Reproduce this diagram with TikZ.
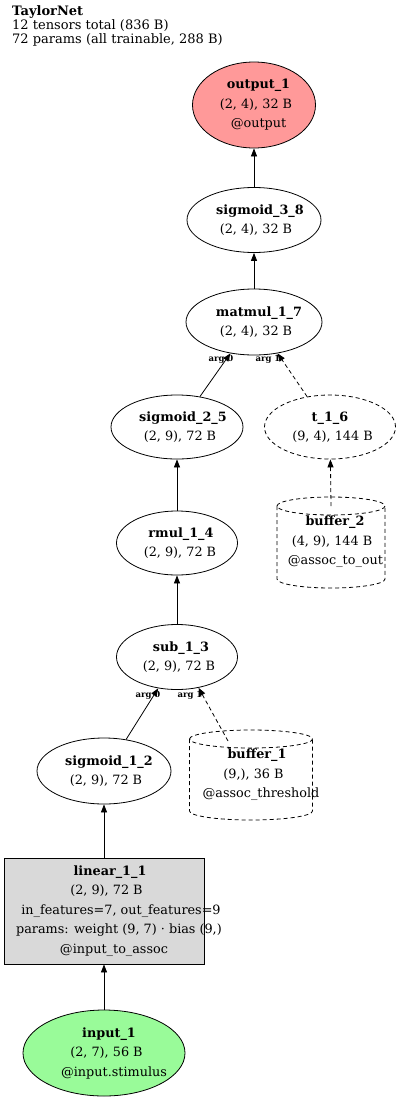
\documentclass[tikz,border=0pt]{standalone}
\usepackage{fontspec}
\setmainfont{DejaVu Serif}
\usetikzlibrary{arrows.meta,shapes.geometric,calc}
\definecolor{outfill}{RGB}{255,153,153}
\definecolor{infill}{RGB}{153,251,153}
\definecolor{linfill}{RGB}{217,217,217}
\tikzset{
  every node/.style={font=\fontsize{12.8}{19.5}\selectfont, inner sep=0pt, text=black},
  op/.style={ellipse, draw, line width=0.8pt, align=center},
  boxnode/.style={rectangle, draw, line width=0.8pt, align=center, fill=linfill},
  bufnode/.style={rectangle, draw=none, align=center},
  cylline/.style={line width=0.8pt, dash pattern=on 4pt off 3pt},
  edge/.style={-{Triangle[length=8pt,width=6pt]}, line width=0.8pt},
  dedge/.style={edge, dash pattern=on 4pt off 3pt},
  argl/.style={font=\bfseries\fontsize{8.5}{9}\selectfont},
  hdr/.style={anchor=north west, align=left, font=\fontsize{13}{14}\selectfont}
}
% a text line shifted right by #1 pt, of nominal width 10pt
\newcommand{\sh}[2]{\makebox[10pt]{\hspace*{#1pt}\hspace*{#1pt}#2}}
\newcommand{\cylshape}[4]{% cx, top, bottom, rx
  \draw[cylline] (#1-#4,#2+9) arc[start angle=180,end angle=-180,x radius=#4,y radius=-9];
  \draw[cylline] (#1-#4,#2+9) -- (#1-#4,#3-9) arc[start angle=180,end angle=360,x radius=#4,y radius=-9] -- (#1+#4,#2+9);
}
\begin{document}
\begin{tikzpicture}[x=1pt,y=-1pt]
\useasboundingbox (0,0) rectangle (400,1100);
\node[hdr] (title) at (12,5) {\textbf{TaylorNet}\\12 tensors total (836 B)\\72 params (all trainable, 288 B)};

\node[op, fill=outfill, minimum width=123, minimum height=86] (out) at (254,105) {\sh{4.5}{\textbf{output\_1}}\\\sh{2}{(2, 4), 32 B}\\\sh{4.5}{@output}};
\node[op, minimum width=134, minimum height=65] (s38) at (254,220) {\sh{6}{\textbf{sigmoid\_3\_8}}\\\sh{2}{(2, 4), 32 B}};
\node[op, minimum width=136, minimum height=66] (mm) at (254,322) {\sh{5}{\textbf{matmul\_1\_7}}\\\sh{2}{(2, 4), 32 B}};
\node[op, minimum width=132, minimum height=64] (s25) at (177,427) {\sh{6}{\textbf{sigmoid\_2\_5}}\\\sh{3}{(2, 9), 72 B}};
\node[op, dashed, dash pattern=on 4pt off 3pt, minimum width=131, minimum height=64] (t16) at (330,427) {\sh{0}{\textbf{t\_1\_6}}\\\sh{2.5}{(9, 4), 144 B}};
\node[op, minimum width=121, minimum height=64] (rm) at (177,543) {\sh{4}{\textbf{rmul\_1\_4}}\\\sh{3}{(2, 9), 72 B}};
\node[bufnode, minimum width=108, minimum height=91] (b2) at (331,542) {\sh{4}{\textbf{buffer\_2}}\\\sh{1}{(4, 9), 144 B}\\\sh{4.5}{@assoc\_to\_out}};
\cylshape{331}{497}{588}{54}
\node[op, minimum width=121, minimum height=65] (sub) at (177,657) {\sh{4}{\textbf{sub\_1\_3}}\\\sh{2}{(2, 9), 72 B}};
\node[op, minimum width=134, minimum height=66] (s12) at (104,771) {\sh{5}{\textbf{sigmoid\_1\_2}}\\\sh{2}{(2, 9), 72 B}};
\node[bufnode, minimum width=123, minimum height=90] (b1) at (251,775) {\sh{6}{\textbf{buffer\_1}}\\\sh{2.5}{(9,), 36 B}\\\sh{10}{@assoc\_threshold}};
\cylshape{251}{730}{820}{61.5}
\node[boxnode, minimum width=200, minimum height=106] (lin) at (104,911) {\sh{6}{\textbf{linear\_1\_1}}\\\sh{2.5}{(2, 9), 72 B}\\\sh{17}{in\_features=7, out\_features=9}\\\sh{15}{params: weight (9, 7) · bias (9,)}\\\sh{10}{@input\_to\_assoc}};
\node[op, fill=infill, minimum width=162, minimum height=86] (in) at (104,1053) {\sh{5}{\textbf{input\_1}}\\\sh{2.5}{(2, 7), 56 B}\\\sh{10}{@input.stimulus}};

\coordinate (b1out) at (228,741);
\coordinate (b2out) at (331,506);

\draw[edge] (s38) -- (out);
\draw[edge] (mm) -- (s38);
\draw[edge] (s25.53) -- (mm.-127);
\draw[dedge] (t16.127) -- (mm.-53);
\draw[dedge] (b2out) -- (t16);
\draw[edge] (rm) -- (s25);
\draw[edge] (sub) -- (rm);
\draw[edge] (s12.55) -- (sub.-121);
\draw[dedge] (b1out) -- (sub.-55);
\draw[edge] (lin) -- (s12);
\draw[edge] (in) -- (lin);

\node[argl] (mma0) at (221,359) {arg 0};
\node[argl] (mma1) at (268,359) {arg 1};
\node[argl] (suba0) at (148,695) {arg 0};
\node[argl] (suba1) at (190,695) {arg 1};
\end{tikzpicture}
\end{document}
